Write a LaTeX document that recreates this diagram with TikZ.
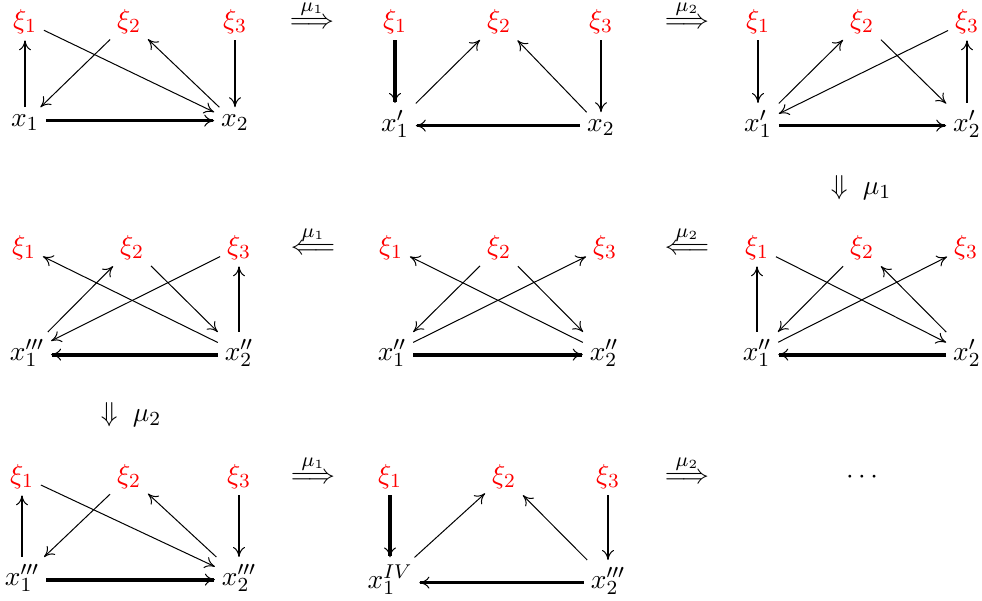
\documentclass[tikz,border=0pt]{standalone}
\usetikzlibrary{arrows.meta}
\begin{document}
\begin{tikzpicture}[x=0.4pt,y=-0.4pt,
  font=\fontsize{11}{13}\selectfont,
  >={To[length=4pt,width=4.8pt,line width=0.4pt]},
  v/.style={anchor=base,inner sep=2.6pt},
  xi/.style={v,text=red},
  dg/.style={->,line width=0.4pt},
  md/.style={->,line width=0.95pt},
  tk/.style={->,line width=1.25pt},
  vt/.style={->,line width=1.55pt},
  mut/.style={anchor=base,inner sep=0pt}]
\useasboundingbox (0,0) rectangle (982,601);

% ---------- Diagram a (row 1, left)
\node[xi] (a1) at (25,28) {$\xi_1$};
\node[xi] (a2) at (129,28) {$\xi_2$};
\node[xi] (a3) at (235,28) {$\xi_3$};
\node[v] (ax1) at (25,126) {$x_1$};
\node[v] (ax2) at (235,126) {$x_2$};
\draw[md] (ax1) -- (a1);
\draw[dg] (a1) -- (ax2);
\draw[dg] (a2) -- (ax1);
\draw[dg] (ax2) -- (a2);
\draw[md] (a3) -- (ax2);
\draw[tk] (ax1.mid east) -- (ax2.mid west);

% ---------- Diagram b (row 1, middle)
\node[xi] (b1) at (395,28) {$\xi_1$};
\node[xi] (b2) at (499,28) {$\xi_2$};
\node[xi] (b3) at (601,28) {$\xi_3$};
\node[v] (bx1) at (395,131) {$x_1'$};
\node[v] (bx2) at (601,131) {$x_2$};
\draw[tk] (b1) -- (bx1);
\draw[dg] (bx1) -- (b2);
\draw[dg] (bx2) -- (b2);
\draw[md] (b3) -- (bx2);
\draw[tk] (bx2.mid west) -- (bx1.mid east);

% ---------- Diagram c (row 1, right)
\node[xi] (c1) at (758,28) {$\xi_1$};
\node[xi] (c2) at (862,28) {$\xi_2$};
\node[xi] (c3) at (967,28) {$\xi_3$};
\node[v] (cx1) at (758,131) {$x_1'$};
\node[v] (cx2) at (967,131) {$x_2'$};
\draw[md] (c1) -- (cx1);
\draw[dg] (cx1) -- (c2);
\draw[dg] (c3) -- (cx1);
\draw[dg] (c2) -- (cx2);
\draw[md] (cx2) -- (c3);
\draw[tk] (cx1.mid east) -- (cx2.mid west);

% ---------- Diagram d (row 2, left)
\node[xi] (d1) at (24,254) {$\xi_1$};
\node[xi] (d2) at (132,254) {$\xi_2$};
\node[xi] (d3) at (239,254) {$\xi_3$};
\node[v] (dx1) at (27,360) {$x_1'''$};
\node[v] (dx2) at (239,360) {$x_2''$};
\draw[dg] (dx2) -- (d1);
\draw[dg] (dx1) -- (d2);
\draw[dg] (d3) -- (dx1);
\draw[dg] (d2) -- (dx2);
\draw[md] (dx2) -- (d3);
\draw[vt] (dx2.mid west) -- (dx1.mid east);

% ---------- Diagram e (row 2, middle)
\node[xi] (e1) at (391,254) {$\xi_1$};
\node[xi] (e2) at (499,254) {$\xi_2$};
\node[xi] (e3) at (605,254) {$\xi_3$};
\node[v] (ex1) at (392,360) {$x_1''$};
\node[v] (ex2) at (604,360) {$x_2''$};
\draw[dg] (ex2) -- (e1);
\draw[dg] (e2) -- (ex1);
\draw[dg] (ex1) -- (e3);
\draw[dg] (e2) -- (ex2);
\draw[vt] (ex1.mid east) -- (ex2.mid west);

% ---------- Diagram f (row 2, right)
\node[xi] (f1) at (757,254) {$\xi_1$};
\node[xi] (f2) at (862,254) {$\xi_2$};
\node[xi] (f3) at (966,254) {$\xi_3$};
\node[v] (fx1) at (757,360) {$x_1''$};
\node[v] (fx2) at (967,360) {$x_2'$};
\draw[md] (fx1) -- (f1);
\draw[dg] (f1) -- (fx2);
\draw[dg] (f2) -- (fx1);
\draw[dg] (fx1) -- (f3);
\draw[dg] (fx2) -- (f2);
\draw[vt] (fx2.mid west) -- (fx1.mid east);

% ---------- Diagram g (row 3, left)
\node[xi] (g1) at (22,483) {$\xi_1$};
\node[xi] (g2) at (129,483) {$\xi_2$};
\node[xi] (g3) at (239,483) {$\xi_3$};
\node[v] (gx1) at (22,585) {$x_1'''$};
\node[v] (gx2) at (239,585) {$x_2'''$};
\draw[md] (gx1) -- (g1);
\draw[dg] (g1) -- (gx2);
\draw[dg] (g2) -- (gx1);
\draw[dg] (gx2) -- (g2);
\draw[md] (g3) -- (gx2);
\draw[vt] (gx1.mid east) -- (gx2.mid west);

% ---------- Diagram h (row 3, middle)
\node[xi] (h1) at (390,483) {$\xi_1$};
\node[xi] (h2) at (504,483) {$\xi_2$};
\node[xi] (h3) at (608,483) {$\xi_3$};
\node[v] (hx1) at (390,588) {$x_1^{IV}$};
\node[v] (hx2) at (608,588) {$x_2'''$};
\draw[tk] (h1) -- (hx1);
\draw[dg] (hx1) -- (h2);
\draw[dg] (hx2) -- (h2);
\draw[md] (h3) -- (hx2);
\draw[tk] (hx2.mid west) -- (hx1.mid east);

% ---------- mutation arrows
\node[mut] (m1) at (312,28) {$\stackrel{\mu_1}{\Longrightarrow}$};
\node[mut] (m2) at (687,28) {$\stackrel{\mu_2}{\Longrightarrow}$};
\node[mut] (m3) at (861,194) {$\Downarrow\;\mu_1$};
\node[mut] (m4) at (687,254) {$\stackrel{\mu_2}{\Longleftarrow}$};
\node[mut] (m5) at (313,254) {$\stackrel{\mu_1}{\Longleftarrow}$};
\node[mut] (m6) at (131,421) {$\Downarrow\;\mu_2$};
\node[mut] (m7) at (313,483) {$\stackrel{\mu_1}{\Longrightarrow}$};
\node[mut] (m8) at (687,483) {$\stackrel{\mu_2}{\Longrightarrow}$};
\node[mut] (dots) at (862,483) {$\cdots$};
\end{tikzpicture}
\end{document}
